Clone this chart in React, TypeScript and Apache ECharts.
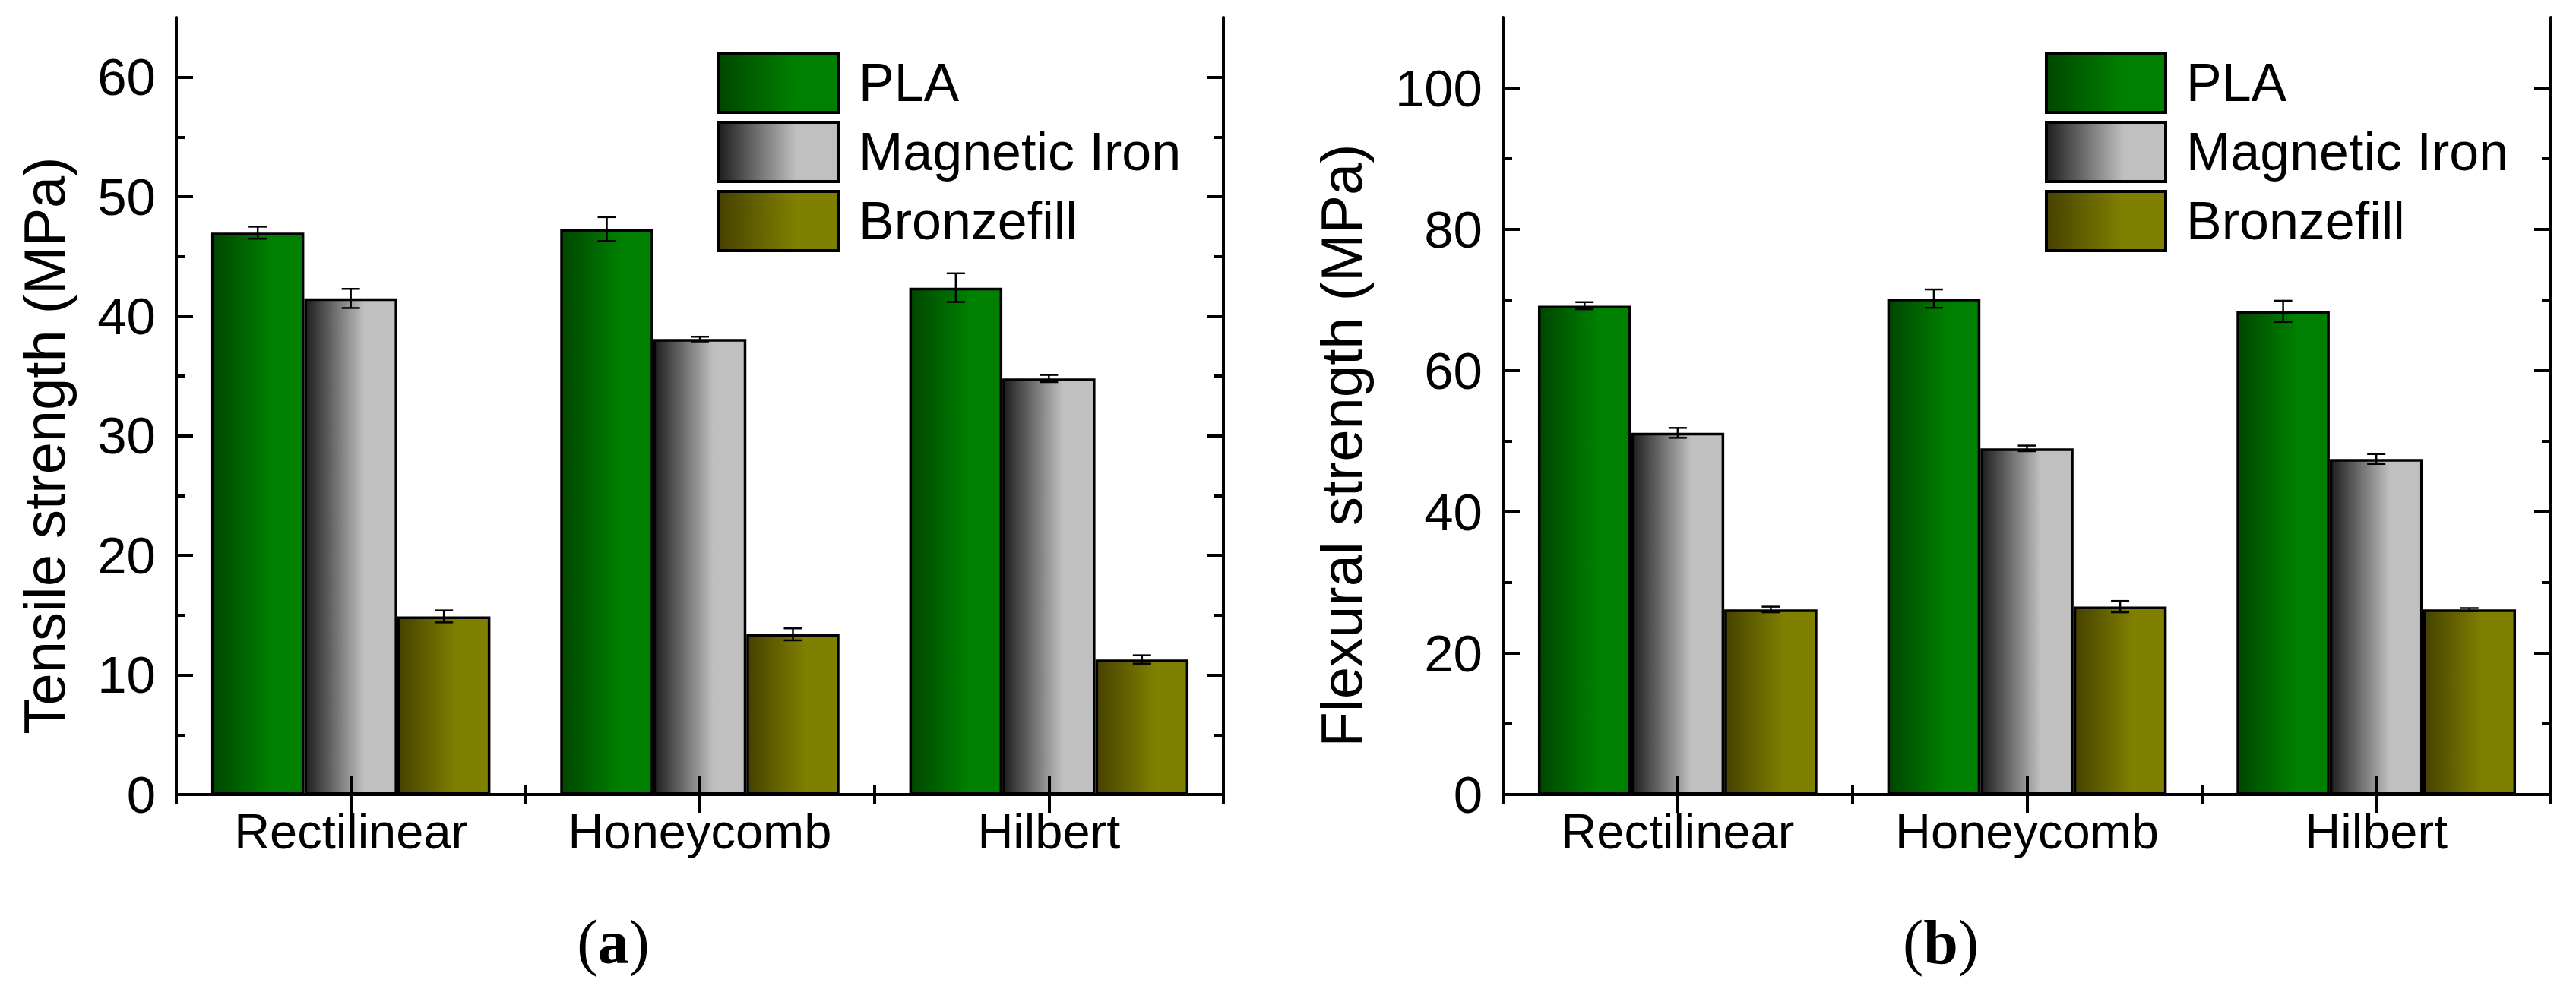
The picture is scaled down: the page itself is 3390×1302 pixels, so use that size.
import React, { useEffect, useRef } from 'react';
import * as echarts from 'echarts';

const categories = ['Rectilinear', 'Honeycomb', 'Hilbert'];
const seriesNames = ['PLA', 'Magnetic Iron', 'Bronzefill'];

// Tensile strength (MPa)
const tensilePLA = [47.0, 47.3, 42.4];
const tensileMI = [41.5, 38.1, 34.8];
const tensileBronze = [14.9, 13.4, 11.3];
const tensilePLAErr = [0.5, 1.0, 1.2];
const tensileMIErr = [0.8, 0.2, 0.3];
const tensileBronzeErr = [0.5, 0.5, 0.35];

// Flexural strength (MPa)
const flexPLA = [69.2, 70.2, 68.4];
const flexMI = [51.2, 49.0, 47.5];
const flexBronze = [26.2, 26.6, 26.2];
const flexPLAErr = [0.5, 1.3, 1.5];
const flexMIErr = [0.7, 0.4, 0.7];
const flexBronzeErr = [0.4, 0.8, 0.2];

const tensileMajorTicks = [0, 10, 20, 30, 40, 50, 60];
const tensileMinorTicks = [5, 15, 25, 35, 45, 55];
const flexMajorTicks = [0, 20, 40, 60, 80, 100];
const flexMinorTicks = [10, 30, 50, 70, 90];

const FONT = 'Liberation Sans';
const BLACK = '#000';

const grad = (c0: string, c1: string) => ({
  type: 'linear',
  x: 0,
  y: 0,
  x2: 1,
  y2: 0,
  colorStops: [
    { offset: 0, color: c0 },
    { offset: 0.65, color: c1 },
    { offset: 1, color: c1 },
  ],
});

const fills = [grad('#004600', '#008000'), grad('#1e1e1e', '#c0c0c0'), grad('#464200', '#808000')];

function errRender(params: any, api: any) {
  const cat = api.value(0);
  const val = api.value(1);
  const err = api.value(2);
  const s = api.value(3);
  const base = api.coord([cat, val]);
  const band = api.size([1, 0])[0];
  const bw = (band * 0.8) / 3;
  const x = base[0] + (s - 1) * bw;
  const yTop = api.coord([cat, val + err])[1];
  const yBot = api.coord([cat, val - err])[1];
  const cap = 12;
  const style = { stroke: BLACK, lineWidth: 2.5 };
  return {
    type: 'group',
    children: [
      { type: 'line', shape: { x1: x, y1: yTop, x2: x, y2: yBot }, style },
      { type: 'line', shape: { x1: x - cap, y1: yTop, x2: x + cap, y2: yTop }, style },
      { type: 'line', shape: { x1: x - cap, y1: yBot, x2: x + cap, y2: yBot }, style },
    ],
  };
}

function buildPanel(
  gi: number,
  values: number[][],
  errs: number[][],
  max: number,
  major: number[],
  minor: number[],
  title: string,
  nameGap: number,
  legendLeft: number
) {
  const line = { color: BLACK, width: 4 };
  const xMajor = (pos: string, labels: boolean) => ({
    type: 'category',
    gridIndex: gi,
    position: pos,
    data: categories,
    z: 5,
    axisLine: { show: true, lineStyle: line },
    axisTick: { show: true, alignWithLabel: true, inside: true, length: 24, lineStyle: line },
    axisLabel: { show: labels, fontSize: 65, color: BLACK, fontFamily: FONT, margin: 16 },
    splitLine: { show: false },
  });
  const xMinor = (pos: string) => ({
    type: 'category',
    gridIndex: gi,
    position: pos,
    data: categories,
    z: 5,
    axisLine: { show: false },
    axisTick: { show: true, alignWithLabel: false, inside: true, length: 12, lineStyle: line },
    axisLabel: { show: false },
    splitLine: { show: false },
  });
  const yMajor = (pos: string, labels: boolean) => ({
    type: 'value',
    gridIndex: gi,
    position: pos,
    min: 0,
    max,
    z: 5,
    axisLine: { show: true, lineStyle: line },
    axisTick: { show: true, inside: true, length: 22, customValues: major, lineStyle: line },
    axisLabel: {
      show: labels,
      customValues: major,
      fontSize: 69,
      color: BLACK,
      fontFamily: FONT,
      margin: 27,
    },
    splitLine: { show: false },
    name: labels ? title : '',
    nameLocation: 'middle',
    nameRotate: 90,
    nameGap,
    nameTextStyle: { fontSize: 76, color: BLACK, fontFamily: FONT, padding: [0, 104, 0, 0] },
  });
  const yMinor = (pos: string) => ({
    type: 'value',
    gridIndex: gi,
    position: pos,
    min: 0,
    max,
    z: 5,
    axisLine: { show: false },
    axisTick: { show: true, inside: true, length: 12, customValues: minor, lineStyle: line },
    axisLabel: { show: false },
    splitLine: { show: false },
  });

  const xAxes = [xMajor('bottom', true), xMajor('top', false), xMinor('bottom'), xMinor('top')];
  const yAxes = [yMajor('left', true), yMajor('right', false), yMinor('left'), yMinor('right')];
  const xi = gi * 4;
  const yi = gi * 4;

  const series: any[] = seriesNames.map((name, s) => ({
    type: 'bar',
    name,
    xAxisIndex: xi,
    yAxisIndex: yi,
    barGap: '0%',
    barCategoryGap: '20%',
    data: values[s],
    itemStyle: { color: fills[s], borderColor: BLACK, borderWidth: 3.5 },
    z: 2,
  }));

  const errData: number[][] = [];
  for (let s = 0; s < 3; s++) {
    for (let c = 0; c < categories.length; c++) {
      errData.push([c, values[s][c], errs[s][c], s]);
    }
  }
  series.push({
    type: 'custom',
    name: 'err' + gi,
    xAxisIndex: xi,
    yAxisIndex: yi,
    renderItem: errRender,
    encode: { x: 0, y: 1 },
    data: errData,
    z: 6,
  });

  const legend = {
    orient: 'vertical',
    left: legendLeft,
    top: 63,
    itemWidth: 157,
    itemHeight: 78,
    itemGap: 9,
    icon: 'rect',
    selectedMode: false,
    data: seriesNames.map((name, s) => ({
      name,
      itemStyle: { color: fills[s], borderColor: BLACK, borderWidth: 4 },
    })),
    textStyle: { fontSize: 70, color: BLACK, fontFamily: FONT, padding: [0, 0, 0, 22] },
  };

  return { xAxes, yAxes, series, legend };
}

export default function App() {
  const ref = useRef<HTMLDivElement>(null);
  useEffect(() => {
    if (!ref.current) return;
    const chart = echarts.init(ref.current, undefined, { renderer: 'svg' });
    const a = buildPanel(
      0,
      [tensilePLA, tensileMI, tensileBronze],
      [tensilePLAErr, tensileMIErr, tensileBronzeErr],
      65,
      tensileMajorTicks,
      tensileMinorTicks,
      'Tensile strength (MPa)',
      136,
      939
    );
    const b = buildPanel(
      1,
      [flexPLA, flexMI, flexBronze],
      [flexPLAErr, flexMIErr, flexBronzeErr],
      110,
      flexMajorTicks,
      flexMinorTicks,
      'Flexural strength (MPa)',
      175,
      2686
    );
    const labelText = (t: string, x: number) => ({
      type: 'text',
      x,
      y: 1240,
      style: {
        text: '{p|(}{b|' + t + '}{p|)}',
        align: 'center',
        verticalAlign: 'middle',
        fill: BLACK,
        rich: {
          p: { fontFamily: 'Liberation Serif', fontSize: 82, fill: BLACK },
          b: { fontFamily: 'Liberation Serif', fontSize: 82, fontWeight: 'bold', fill: BLACK },
        },
      },
    });
    chart.setOption({
      animation: false,
      backgroundColor: '#fff',
      grid: [
        { left: 232, top: 23, width: 1378, height: 1023 },
        { left: 1978, top: 23, width: 1379, height: 1023 },
      ],
      xAxis: [...a.xAxes, ...b.xAxes],
      yAxis: [...a.yAxes, ...b.yAxes],
      legend: [a.legend, b.legend],
      series: [...a.series, ...b.series],
      graphic: [labelText('a', 807), labelText('b', 2554)],
    } as any);
    return () => chart.dispose();
  }, []);
  return (
    <div
      ref={ref}
      style={{ position: 'fixed', left: 0, top: 0, width: '3390px', height: '1302px', background: '#fff' }}
    />
  );
}
